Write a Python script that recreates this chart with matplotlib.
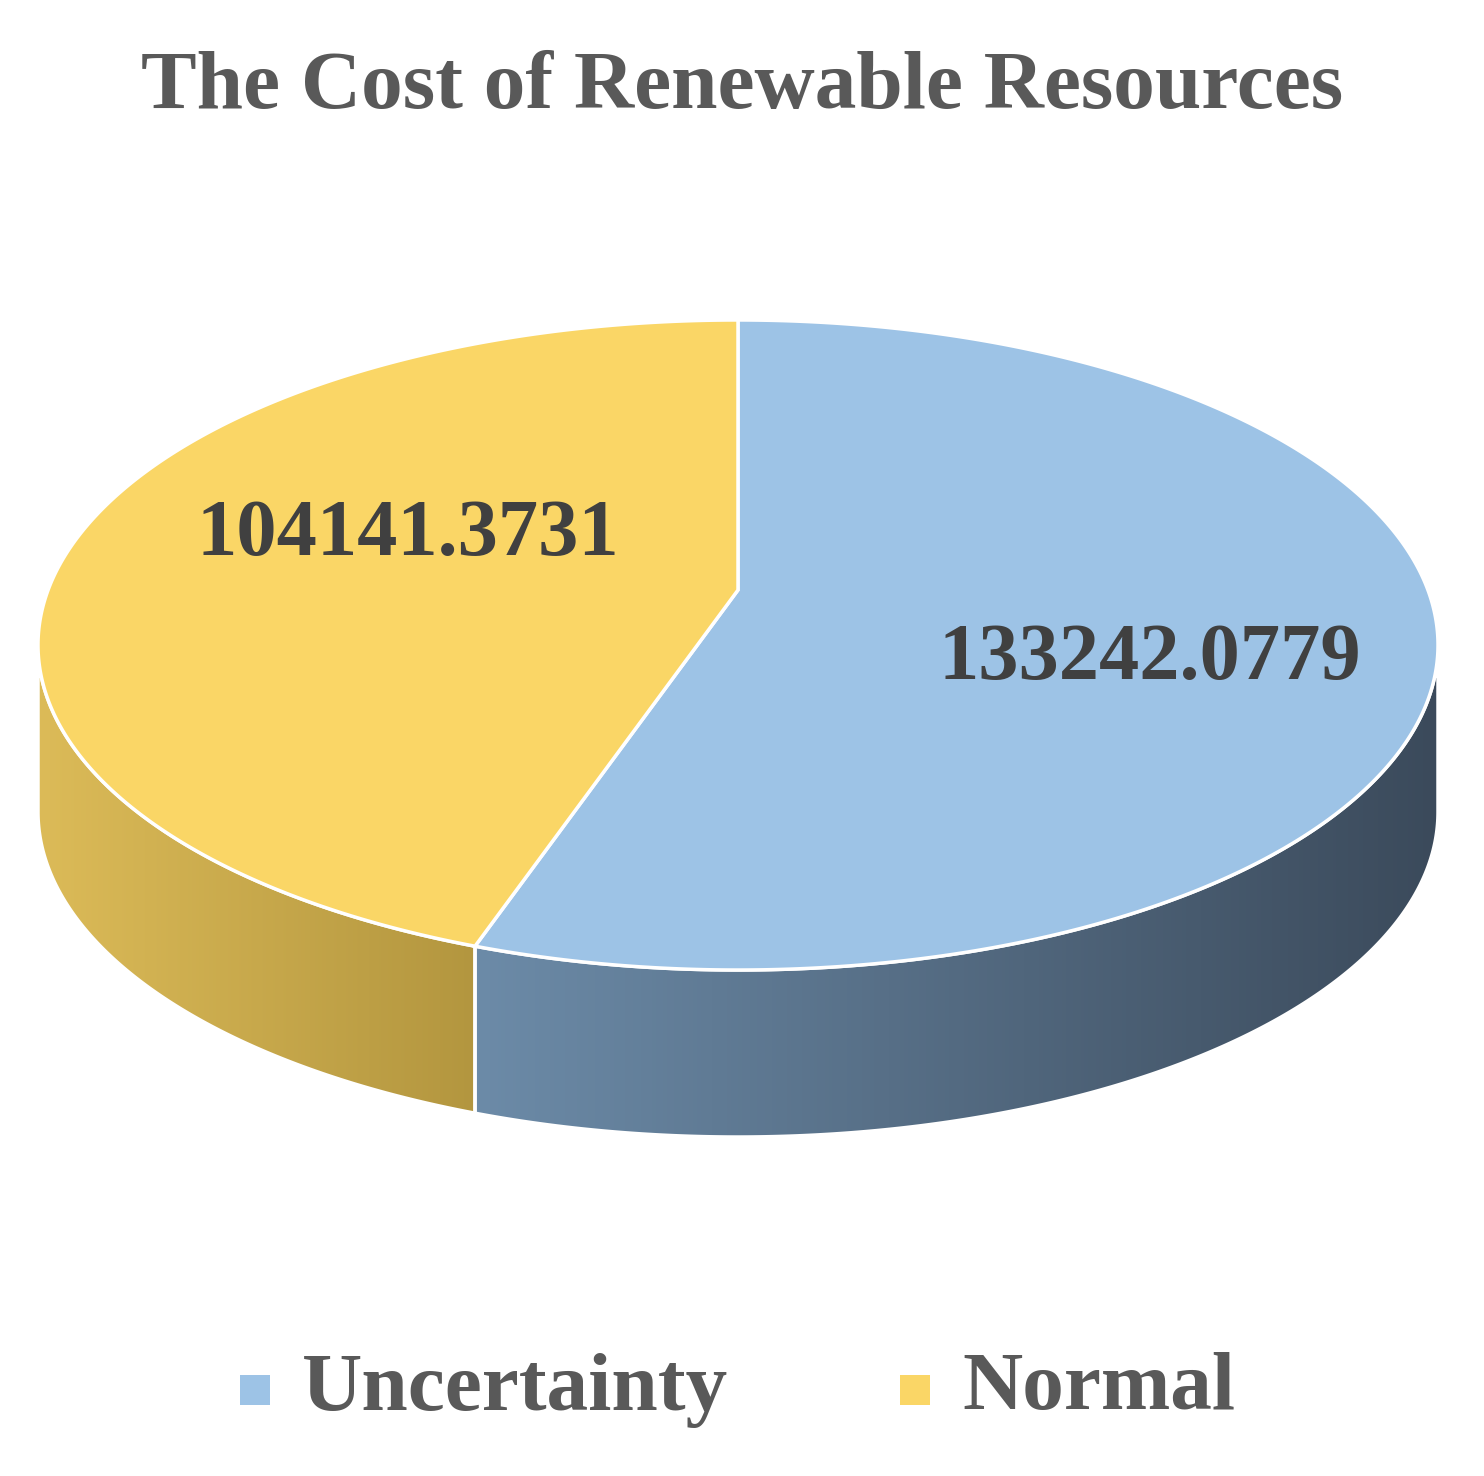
import numpy as np
import matplotlib
matplotlib.use("Agg")
import matplotlib.pyplot as plt
from matplotlib.patches import Polygon, Rectangle
from matplotlib.colors import LinearSegmentedColormap

title = "The Cost of Renewable Resources"
categories = ["Uncertainty", "Normal"]
values = [133242.0779, 104141.3731]
labels = ["133242.0779", "104141.3731"]
top_colors = ["#9dc3e6", "#fad666"]
side_cmaps = [["#6c8ba8", "#3b4a5b"], ["#dcbb58", "#b3963f"]]

W, H = 1484, 1476
fig = plt.figure(figsize=(W/100, H/100), dpi=100)
ax = fig.add_axes([0, 0, 1, 1])
ax.set_xlim(0, W); ax.set_ylim(H, 0); ax.axis("off")

cx, cy, a, b, depth = 738, 645, 700, 325, 167
def pt(t):
    return cx + a*np.cos(t), cy - b*np.sin(t)

fr = np.array(values)/sum(values)
starts = [np.pi/2]
for f in fr[:-1]:
    starts.append(starts[-1] - 2*np.pi*f)
ends = [s - 2*np.pi*f for s, f in zip(starts, fr)]

fontfam = ["Liberation Serif"]
# sides
for i in range(len(values)):
    s, e = starts[i], ends[i]
    ts = np.linspace(e, s, 400)
    # front-facing part: sin < 0  -> angles in (-pi, 0) mod 2pi
    tn = np.mod(ts, 2*np.pi)
    mask = tn >= np.pi
    if not mask.any():
        continue
    tt = ts[mask]
    x, y = pt(tt)
    xs = np.concatenate([x, x[::-1]])
    ys = np.concatenate([y, (y+depth)[::-1]])
    poly = Polygon(np.column_stack([xs, ys]), closed=True, facecolor="none", edgecolor="white", lw=2.5, zorder=2)
    ax.add_patch(poly)
    cmap = LinearSegmentedColormap.from_list("g%d" % i, side_cmaps[i])
    x0, x1 = xs.min(), xs.max()
    grad = np.linspace(0, 1, 256).reshape(1, -1)
    im = ax.imshow(grad, cmap=cmap, extent=(x0, x1, ys.max(), ys.min()), aspect="auto", zorder=1)
    im.set_clip_path(poly)
ax.set_xlim(0, W); ax.set_ylim(H, 0)

# tops
for i in range(len(values)):
    ts = np.linspace(starts[i], ends[i], 400)
    x, y = pt(ts)
    xs = np.concatenate([[cx], x]); ys = np.concatenate([[cy - 55], y])
    ax.add_patch(Polygon(np.column_stack([xs, ys]), closed=True, facecolor=top_colors[i],
                         edgecolor="white", lw=2.5, zorder=3))

label_pos = [(1150, 660), (408, 535)]
for lab, (x, y) in zip(labels, label_pos):
    ax.text(x, y, lab, ha="center", va="center", fontsize=58, fontweight="bold",
            color="#404040", family=fontfam, zorder=5)

ax.text(W/2, 88, title, ha="center", va="center", fontsize=60, fontweight="bold",
        color="#595959", family=fontfam)

leg = [(240, 1390), (900, 1390)]
for (x, y), c, name in zip(leg, top_colors, categories):
    ax.add_patch(Rectangle((x, y-15), 30, 30, facecolor=c, edgecolor="none"))
    ax.text(x + 62, y, name, ha="left", va="center", fontsize=60, fontweight="bold",
            color="#595959", family=fontfam)

fig.savefig("out.png", dpi=100)
